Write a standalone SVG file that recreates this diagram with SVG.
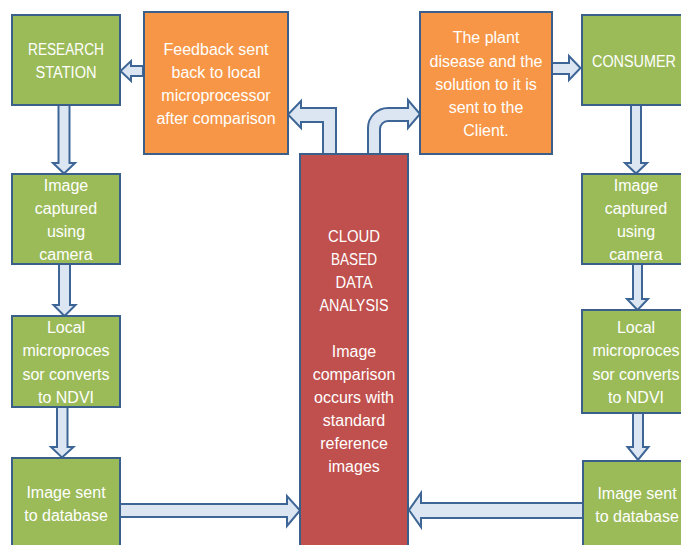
<svg xmlns="http://www.w3.org/2000/svg" width="681" height="545" viewBox="0 0 681 545">
<style>
.green{fill:#9BBB59;stroke:#3A5F8B;stroke-width:2}
.orange{fill:#F79646;stroke:#3A5F8B;stroke-width:2}
.red{fill:#C0504D;stroke:#3A5F8B;stroke-width:2}
.arr{fill:#DCE6F2;stroke:#3D6696;stroke-width:2;stroke-linejoin:miter}
text{fill:#FFFFFF;font-family:"Liberation Sans",Arial,sans-serif;font-size:16px;text-anchor:middle}
.caps{font-size:16px}
</style>
<rect width="681" height="545" fill="#FFFFFF"/>
<g id="connectors">
<polygon class="arr" points="143,66 131,66 131,61 120.5,71 131,81 131,76 143,76"/>
<polygon class="arr" points="58.5,105 69.5,105 69.5,163 75,163 64,173.5 53,163 58.5,163"/>
<polygon class="arr" points="59,264 70,264 70,305 75.5,305 64.5,316 53.5,305 59,305"/>
<polygon class="arr" points="57,407 67.5,407 67.5,447 73.5,447 62,457.5 51,447 57,447"/>
<polygon class="arr" points="120,504 287,504 287,496 300,510.5 287,526 287,517 120,517"/>
<polygon class="arr" points="583,503 421,503 421,493 409,510 421,527 421,518 583,518"/>
<polygon class="arr" points="631,105 641,105 641,163 647,163 636,173.5 625,163 631,163"/>
<polygon class="arr" points="633,264 642,264 642,299 648,299 637.5,310 627,299 633,299"/>
<polygon class="arr" points="633,413 643,413 643,447 648.5,447 638,460 627.5,447 633,447"/>
<polygon class="arr" points="552,63 569,63 569,56 580.5,68 569,80 569,74 552,74"/>
<path class="arr" d="M323,154 L323,122 L301,122 L301,128 L288,114.5 L301,101 L301,108 L336,108 L336,154 Z"/>
<path class="arr" d="M368,154 L368,128 A20,20 0 0 1 388,108 L408,108 L408,100 L420,114 L408,128 L408,121 L388,121 A8,8 0 0 0 380,129 L380,154 Z"/>
</g>
<g id="research-station">
<rect class="green" x="12" y="15" width="108" height="90"/>
<text class="caps" x="66" y="55" textLength="76" lengthAdjust="spacingAndGlyphs">RESEARCH</text>
<text class="caps" x="66" y="78" textLength="61" lengthAdjust="spacingAndGlyphs">STATION</text>
</g>
<g id="feedback">
<rect class="orange" x="144" y="12" width="144" height="142"/>
<text x="216" y="55">Feedback sent</text>
<text x="216" y="78">back to local</text>
<text x="216" y="101">microprocessor</text>
<text x="216" y="124">after comparison</text>
</g>
<g id="cloud">
<rect class="red" x="300" y="154" width="108" height="410"/>
<text class="caps" x="354" y="242" textLength="52" lengthAdjust="spacingAndGlyphs">CLOUD</text>
<text class="caps" x="354" y="265" textLength="46" lengthAdjust="spacingAndGlyphs">BASED</text>
<text class="caps" x="354" y="288" textLength="37" lengthAdjust="spacingAndGlyphs">DATA</text>
<text class="caps" x="354" y="311" textLength="69" lengthAdjust="spacingAndGlyphs">ANALYSIS</text>
<text x="354" y="357">Image</text>
<text x="354" y="380">comparison</text>
<text x="354" y="403">occurs with</text>
<text x="354" y="426">standard</text>
<text x="354" y="449">reference</text>
<text x="354" y="472">images</text>
</g>
<g id="client-info">
<rect class="orange" x="420" y="12" width="132" height="142"/>
<text x="486" y="43">The plant</text>
<text x="486" y="67">disease and the</text>
<text x="486" y="90">solution to it is</text>
<text x="486" y="113">sent to the</text>
<text x="486" y="136">Client.</text>
</g>
<g id="consumer">
<rect class="green" x="582" y="15" width="108" height="90"/>
<text class="caps" x="634" y="67" textLength="84" lengthAdjust="spacingAndGlyphs">CONSUMER</text>
</g>
<g id="left-capture">
<rect class="green" x="12" y="174" width="108" height="90"/>
<text x="66" y="191">Image</text>
<text x="66" y="214">captured</text>
<text x="66" y="237">using</text>
<text x="66" y="260">camera</text>
</g>
<g id="left-ndvi">
<rect class="green" x="12" y="316" width="108" height="91"/>
<text x="66" y="333">Local</text>
<text x="66" y="356">microproces</text>
<text x="66" y="380">sor converts</text>
<text x="66" y="403">to NDVI</text>
</g>
<g id="left-database">
<rect class="green" x="12" y="458" width="108" height="100"/>
<text x="66" y="498">Image sent</text>
<text x="66" y="521">to database</text>
</g>
<g id="right-capture">
<rect class="green" x="582" y="174" width="108" height="90"/>
<text x="636" y="191">Image</text>
<text x="636" y="214">captured</text>
<text x="636" y="237">using</text>
<text x="636" y="260">camera</text>
</g>
<g id="right-ndvi">
<rect class="green" x="582" y="310" width="108" height="103"/>
<text x="636" y="333">Local</text>
<text x="636" y="356">microproces</text>
<text x="636" y="380">sor converts</text>
<text x="636" y="403">to NDVI</text>
</g>
<g id="right-database">
<rect class="green" x="583" y="461" width="108" height="100"/>
<text x="637" y="499">Image sent</text>
<text x="637" y="522">to database</text>
</g>
</svg>
